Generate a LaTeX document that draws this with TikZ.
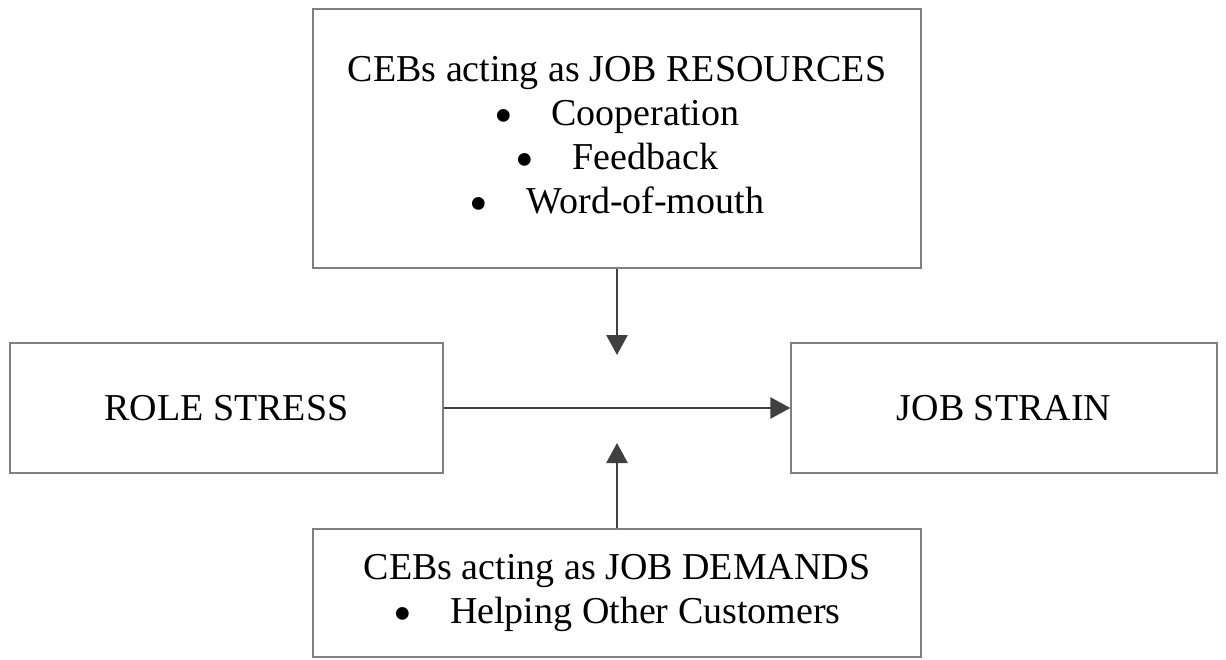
\documentclass[tikz,border=0pt]{standalone}
\usepackage{fontspec}
\setmainfont{Liberation Serif}
\usepackage{xcolor}
\usepackage{graphicx}
\usetikzlibrary{arrows.meta}

\definecolor{boxgray}{RGB}{128,128,128}
\definecolor{arrowgray}{RGB}{64,64,64}

\newcommand{\bitem}[1]{\raisebox{-0.21em}{\scalebox{1.4}{\textbullet}}\hspace{1.0em}#1}

\begin{document}
\begin{tikzpicture}[x=1pt, y=-1pt,
    box/.style={draw=boxgray, line width=1.3pt, rectangle, align=center, inner sep=0pt,
        font=\fontsize{38}{44}\selectfont},
    link/.style={draw=arrowgray, line width=2.7pt, -{Triangle[length=20pt,width=21pt]}}]

    \useasboundingbox (0,0) rectangle (1226,660);

    \draw (617,138.5) node[box, minimum width=608, minimum height=259](resources){CEBs acting as JOB RESOURCES\\
        \bitem{Cooperation}\\ \bitem{Feedback}\\ \bitem{Word-of-mouth}};
    \draw (226.5,408) node[box, minimum width=433, minimum height=130](stress){ROLE STRESS};
    \draw (1004,408) node[box, minimum width=426, minimum height=130](strain){JOB STRAIN};
    \draw (617,593) node[box, minimum width=608, minimum height=128](demands){CEBs acting as JOB DEMANDS\\
        \bitem{Helping Other Customers}};

    \coordinate (downtip) at (617,355);
    \coordinate (uptip) at (617,443);

    \draw [link] (stress.east) -- (strain.west);
    \draw [link] (resources.south) -- (downtip);
    \draw [link] (demands.north) -- (uptip);

\end{tikzpicture}
\end{document}
